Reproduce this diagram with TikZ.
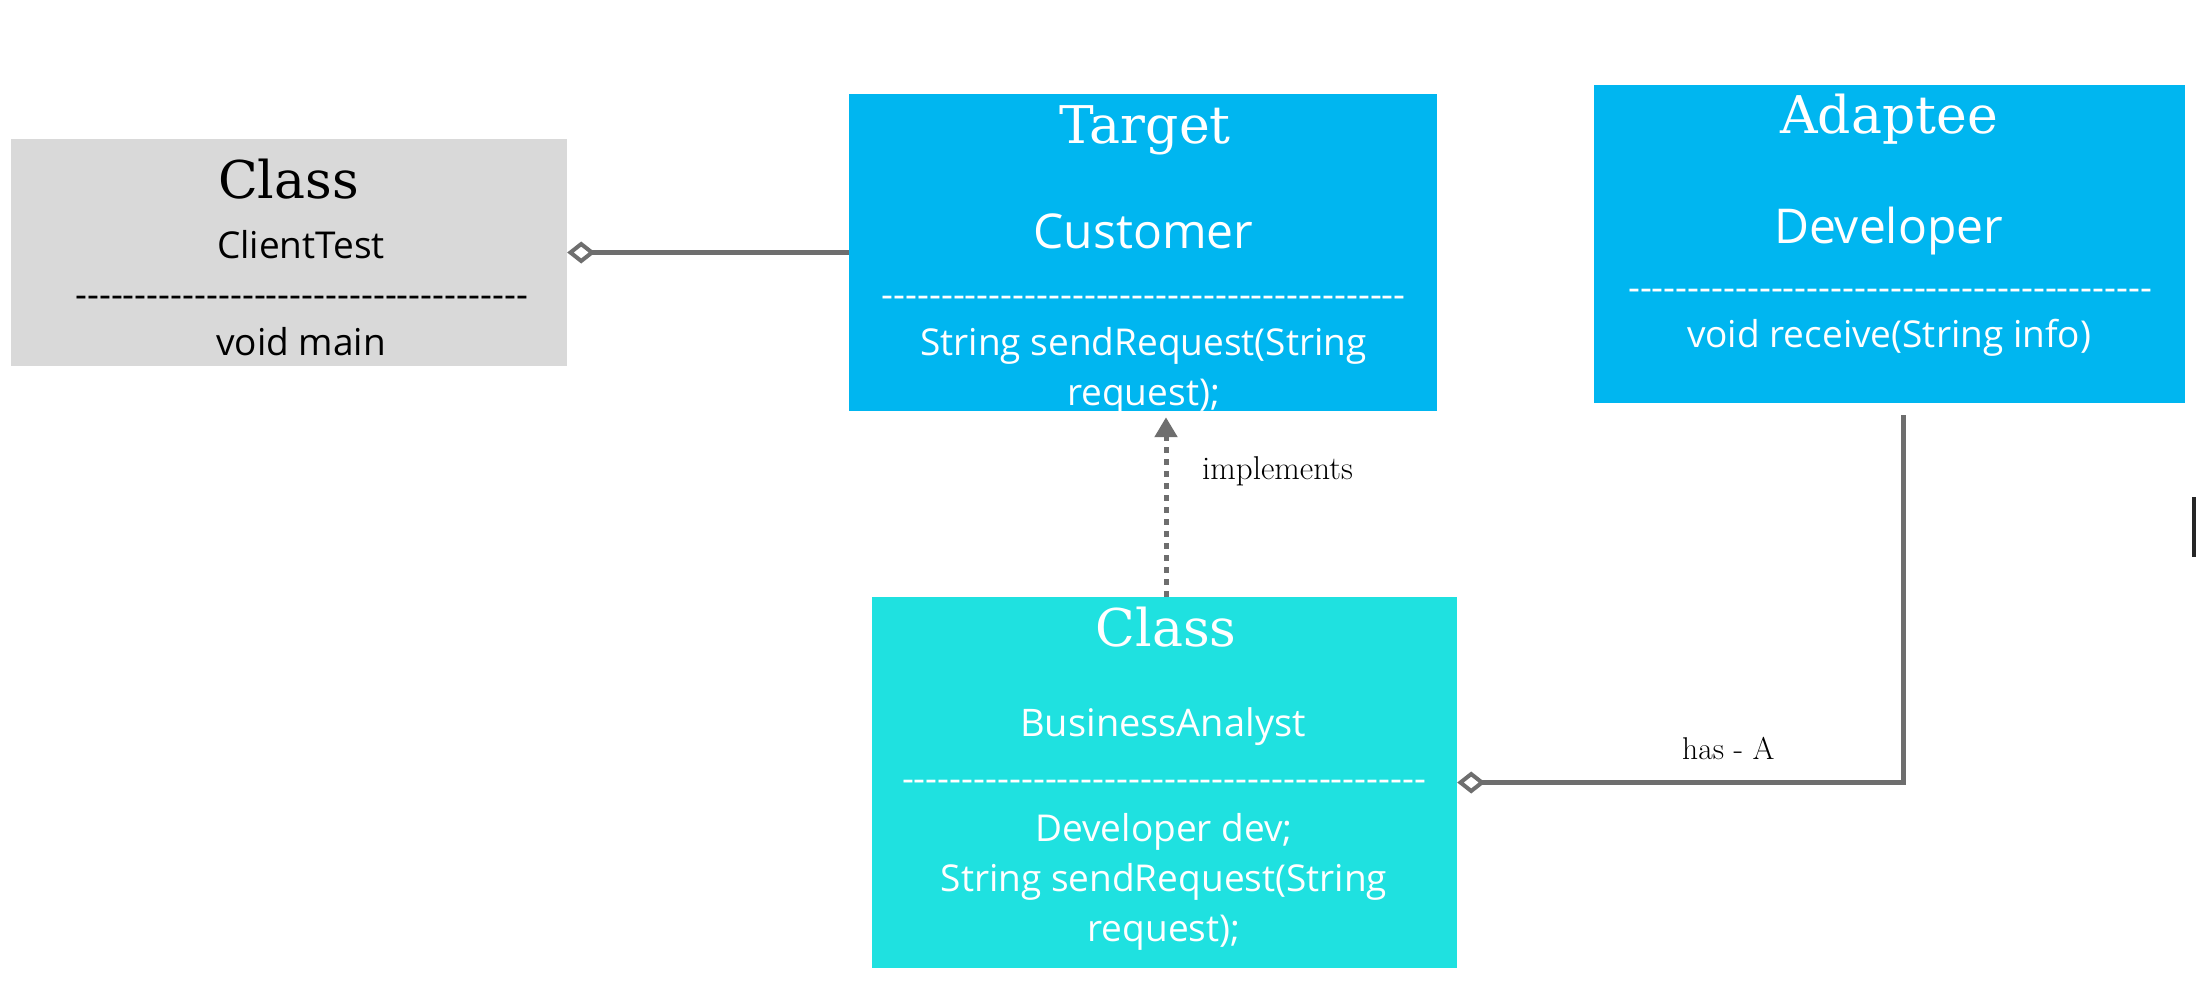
\documentclass[tikz,border=0pt]{standalone}
\usepackage{fontspec}
\newfontfamily\headf{DejaVu Serif}
\newfontfamily\bodyf{Open Sans}
\usetikzlibrary{arrows.meta}
\definecolor{boxgray}{HTML}{D9D9D9}
\definecolor{boxblue}{HTML}{00B6F0}
\definecolor{boxturq}{HTML}{1FE1E0}
\definecolor{linegray}{HTML}{6E6E6E}
\newcommand{\dashrow}[1]{\hbox to #1{\cleaders\hbox{-}\hfill}}
\begin{document}
\begin{tikzpicture}[x=1pt,y=-1pt,
  classbox/.style={draw=none, inner sep=0pt, rectangle},
  head/.style={font=\headf\fontsize{52}{60}\selectfont, anchor=base, inner sep=0pt},
  cname/.style={font=\bodyf\fontsize{48}{56}\selectfont, anchor=base, inner sep=0pt},
  body/.style={font=\bodyf\fontsize{37}{50}\selectfont, anchor=base, inner sep=0pt, align=center},
  sep/.style={font=\bodyf\fontsize{37}{50}\selectfont, anchor=center, inner sep=0pt},
  conn/.style={draw=linegray, line width=5pt},
  agg/.style={{Diamond[open, length=28pt, width=22pt, line width=4pt]}-},
  lbl/.style={font=\fontsize{33}{38}\selectfont, anchor=base west, inner sep=0pt}
]
\useasboundingbox[fill=white] (0,0) rectangle (2196,989);

% boxes
\node[classbox, fill=boxgray, minimum width=556pt, minimum height=227pt] (client) at (289,252.5) {};
\node[classbox, fill=boxblue, minimum width=588pt, minimum height=317pt] (target) at (1143,252.5) {};
\node[classbox, fill=boxblue, minimum width=591pt, minimum height=318pt] (adaptee) at (1889.5,244) {};
\node[classbox, fill=boxturq, minimum width=585pt, minimum height=371pt] (ba) at (1164.5,782.5) {};

% client texts
\node[head, text=black] (clientH) at (288.5,198) {Class};
\node[body, text=black] (clientN) at (301,258) {ClientTest};
\node[sep, text=black] (clientS) at (301.5,302) {\dashrow{464pt}};
\node[body, text=black] (clientM) at (301,355) {void main};

% target texts
\node[head, text=white] (targetH) at (1145,143) {Target};
\node[cname, text=white] (targetN) at (1143.5,248) {Customer};
\node[sep, text=white] (targetS) at (1143.5,302) {\dashrow{535pt}};
\node[body, text=white] (targetM) at (1143.5,405) {String sendRequest(String\\request);};

% adaptee texts
\node[head, text=white] (adapteeH) at (1889,133) {Adaptee};
\node[cname, text=white] (adapteeN) at (1888.5,243) {Developer};
\node[sep, text=white] (adapteeS) at (1890,295) {\dashrow{534pt}};
\node[body, text=white] (adapteeM) at (1889,347) {void receive(String info)};

% business analyst texts
\node[head, text=white] (baH) at (1166,646) {Class};
\node[body, text=white, font=\bodyf\fontsize{38}{50}\selectfont] (baN) at (1163,736) {BusinessAnalyst};
\node[sep, text=white] (baS) at (1164,786) {\dashrow{535pt}};
\node[body, text=white] (baM) at (1164,941) {Developer dev;\\String sendRequest(String\\request);};

% connectors
\draw[conn, agg] (client.east) -- (target.west);
\draw[conn, dash pattern=on 6pt off 6pt, -{Triangle[length=20pt, width=22pt]}, shorten >=6pt]
  (ba.north -| 1166,0) -- (target.south -| 1166,0);
\node[lbl] (impl) at (1202,479) {implements};

\coordinate (hastop) at (1903,415);
\draw[conn, agg] (ba.east) -- (ba.east -| hastop) -- (hastop);
\node[lbl, font=\fontsize{31.5}{36}\selectfont] (hasa) at (1682,759) {has - A};

% cropped mark at right edge
\fill[black!85] (2192,497) rectangle (2196,557);
\end{tikzpicture}
\end{document}
